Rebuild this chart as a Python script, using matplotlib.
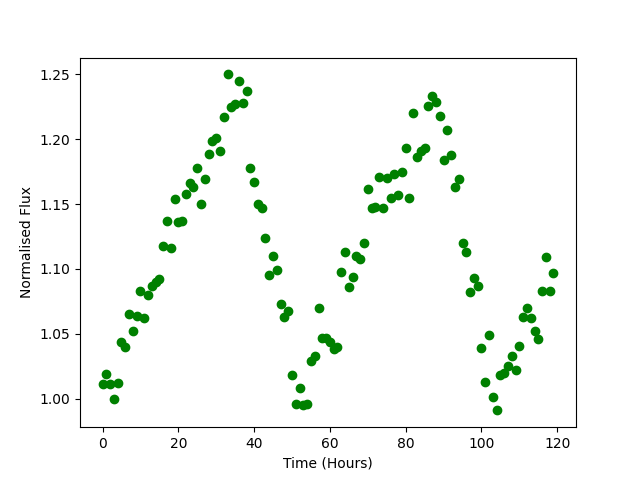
import matplotlib
matplotlib.use("Agg")
import matplotlib.pyplot as plt
import numpy as np

hours = list(range(120))
flux = [
    1.011, 1.019, 1.011, 1.000, 1.012, 1.044, 1.040, 1.065, 1.052, 1.064,
    1.083, 1.062, 1.080, 1.087, 1.090, 1.092, 1.118, 1.137, 1.116, 1.154,
    1.136, 1.137, 1.158, 1.166, 1.163, 1.178, 1.150, 1.169, 1.189, 1.199,
    1.201, 1.191, 1.217, 1.250, 1.225, 1.227, 1.245, 1.228, 1.237, 1.178,
    1.167, 1.150, 1.147, 1.124, 1.095, 1.110, 1.099, 1.073, 1.063, 1.068,
    1.018, 0.996, 1.008, 0.995, 0.996, 1.029, 1.033, 1.070, 1.047, 1.047,
    1.044, 1.038, 1.040, 1.098, 1.113, 1.086, 1.094, 1.110, 1.108, 1.120,
    1.162, 1.147, 1.148, 1.171, 1.147, 1.170, 1.155, 1.173, 1.157, 1.175,
    1.193, 1.155, 1.220, 1.186, 1.191, 1.193, 1.226, 1.233, 1.229, 1.218,
    1.184, 1.207, 1.188, 1.163, 1.169, 1.120, 1.113, 1.082, 1.093, 1.087,
    1.039, 1.013, 1.049, 1.001, 0.991, 1.018, 1.020, 1.025, 1.033, 1.022,
    1.041, 1.063, 1.070, 1.062, 1.052, 1.046, 1.083, 1.109, 1.083, 1.097,
]

fig, ax = plt.subplots(figsize=(6.4, 4.8), dpi=100)
ax.plot(hours, flux, 'o', color='green')
ax.set_xlabel("Time (Hours)")
ax.set_ylabel("Normalised Flux")
fig.savefig("out.png")
